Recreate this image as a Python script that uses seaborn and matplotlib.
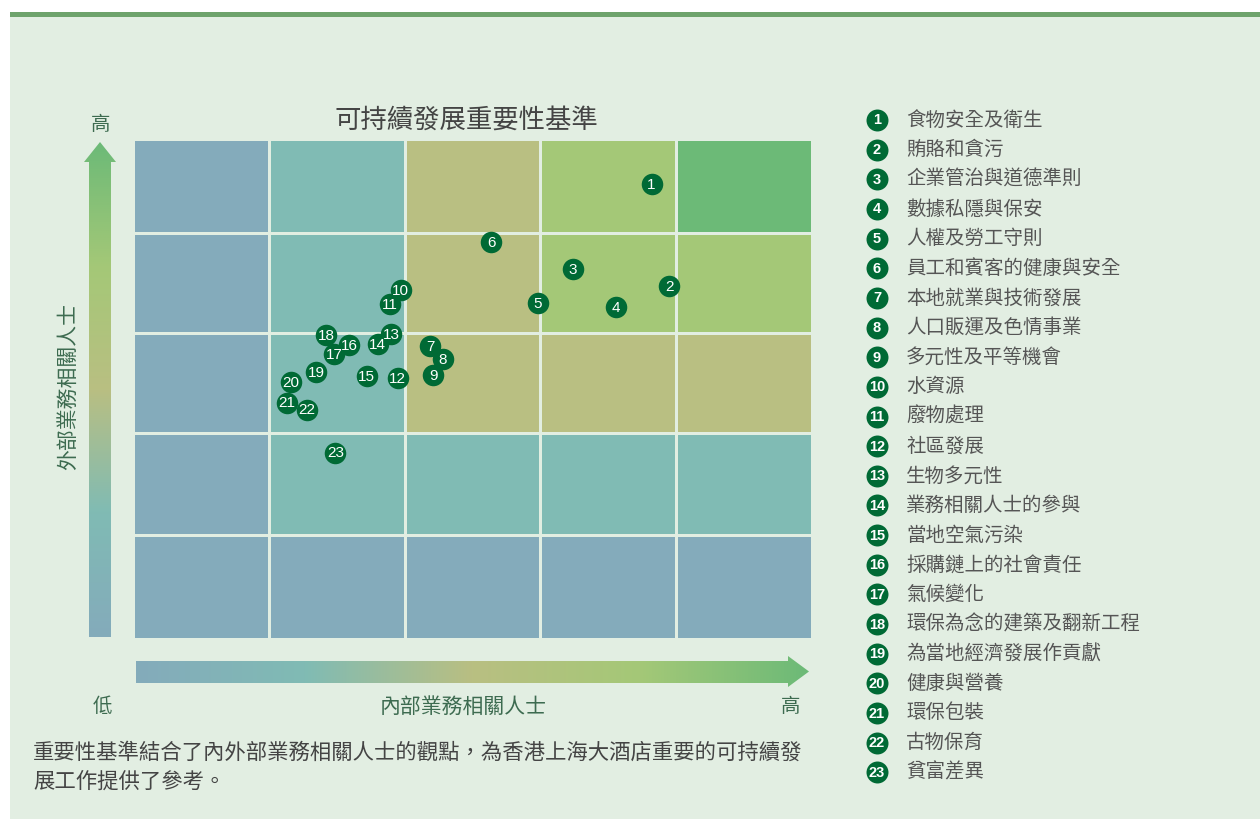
import numpy as np
import matplotlib
matplotlib.use("Agg")
import matplotlib.pyplot as plt
from matplotlib.colors import ListedColormap, LinearSegmentedColormap, BoundaryNorm
from matplotlib.patches import Polygon, Rectangle
import seaborn as sns

# Materiality issues (number, name, internal score, external score)
issue_ids = list(range(1, 24))
issue_names = [
    "食物安全及衛生", "賄賂和貪污", "企業管治與道德準則", "數據私隱與保安",
    "人權及勞工守則", "員工和賓客的健康與安全", "本地就業與技術發展",
    "人口販運及色情事業", "多元性及平等機會", "水資源", "廢物處理", "社區發展",
    "生物多元性", "業務相關人士的參與", "當地空氣污染", "採購鏈上的社會責任",
    "氣候變化", "環保為念的建築及翻新工程", "為當地經濟發展作貢獻", "健康與營養",
    "環保包裝", "古物保育", "貧富差異",
]
internal_score = [3.82, 3.95, 3.24, 3.56, 2.98, 2.64, 2.19, 2.28, 2.21, 1.97, 1.89, 1.95,
                  1.90, 1.80, 1.72, 1.59, 1.48, 1.42, 1.35, 1.16, 1.13, 1.28, 1.49]
external_score = [4.55, 3.53, 3.70, 3.32, 3.36, 3.97, 2.93, 2.80, 2.64, 3.49, 3.35, 2.61,
                  3.05, 2.95, 2.63, 2.94, 2.85, 3.04, 2.67, 2.57, 2.36, 2.29, 1.86]

# Zone grid: column / row edges and level of each cell (top row first)
col_edges = [0, 1, 2, 3, 4, 5]
row_edges = [0, 1.04, 2.06, 3.06, 4.06, 5.0]
zone_levels = [
    [0, 1, 2, 3, 4],
    [0, 1, 2, 3, 3],
    [0, 1, 2, 2, 2],
    [0, 1, 1, 1, 1],
    [0, 0, 0, 0, 0],
]
zone_colors = ["#84abbb", "#80bbb4", "#b9bf82", "#a4c877", "#6cba77"]

title = "可持續發展重要性基準"
x_label = "內部業務相關人士"
y_label = "外部業務相關人士"
low_text, high_text = "低", "高"
note_lines = ["重要性基準結合了內外部業務相關人士的觀點，為香港上海大酒店重要的可持續發",
              "展工作提供了參考。"]

bg = "#e2eee2"
dark_green = "#006a35"
label_green = "#3d6b50"

sns.set_theme(style="white")
plt.rcParams['font.family'] = ['Noto Sans CJK TC', 'DejaVu Sans']

W, H = 1260, 819
fig = plt.figure(figsize=(W / 100, H / 100), dpi=100, facecolor="white")

# Background / decoration layer in pixel coordinates
deco = fig.add_axes([0, 0, 1, 1], zorder=0)
deco.set_xlim(0, W)
deco.set_ylim(H, 0)
deco.axis("off")
deco.add_patch(Rectangle((10, 16), W - 10, H - 16, color=bg, lw=0, zorder=0))
deco.add_patch(Rectangle((10, 12), W - 10, 4.5, color="#6ea36c", lw=0, zorder=0))

grad_cmap = LinearSegmentedColormap.from_list("grad", zone_colors)
grad = np.linspace(0, 1, 256)

# vertical arrow
v_arrow = Polygon([(89, 637), (111, 637), (111, 162), (116, 162), (100, 142),
                   (84, 162), (89, 162)], closed=True, transform=deco.transData)
im = deco.imshow(grad[::-1].reshape(-1, 1), cmap=grad_cmap, extent=(84, 116, 637, 142),
                 aspect="auto", origin="upper", interpolation="bilinear", zorder=2)
im.set_clip_path(v_arrow)

# horizontal arrow
h_arrow = Polygon([(136, 661), (788, 661), (788, 656), (809, 671.5), (788, 687),
                   (788, 683), (136, 683)], closed=True, transform=deco.transData)
im2 = deco.imshow(grad.reshape(1, -1), cmap=grad_cmap, extent=(136, 809, 687, 656),
                  aspect="auto", interpolation="bilinear", zorder=2)
im2.set_clip_path(h_arrow)
deco.set_xlim(0, W)
deco.set_ylim(H, 0)

# Axis texts
deco.text(101, 124, high_text, ha="center", va="center", fontsize=14, color=label_green)
deco.text(102, 707, low_text, ha="center", va="center", fontsize=14, color=label_green)
deco.text(791, 707, high_text, ha="center", va="center", fontsize=14, color=label_green)
deco.text(463, 707, x_label, ha="center", va="center", fontsize=15, color=label_green)
deco.text(68, 387, y_label, ha="center", va="center", fontsize=15, color=label_green,
          rotation=90)
deco.text(466, 120, title, ha="center", va="center", fontsize=19, color="#444444")

for i, line in enumerate(note_lines):
    deco.text(33, 753 + i * 29, line, ha="left", va="center", fontsize=15.4, color="#444444")

# Legend list
for i, (num, name) in enumerate(zip(issue_ids, issue_names)):
    yy = 120 + i * 29.65
    deco.scatter(877, yy, s=250, color=dark_green, zorder=3, linewidths=0)
    deco.text(877, yy + 0.5, str(num), ha="center", va="center", fontsize=10.5,
              color="white", family="Liberation Sans", fontweight="bold", zorder=4)
    deco.text(906, yy, name, ha="left", va="center", fontsize=14, color="#555555")

# Main matrix
ax = fig.add_axes([133.25 / W, 1 - 638.75 / H, 678.5 / W, 499.5 / H], zorder=1)
ax.set_facecolor("none")
ax.pcolormesh(col_edges, row_edges, np.flipud(np.array(zone_levels)),
              cmap=ListedColormap(zone_colors),
              norm=BoundaryNorm(np.arange(-0.5, 5), len(zone_colors)),
              edgecolors=bg, linewidth=1.8)

sns.scatterplot(x=internal_score, y=external_score, s=240, color=dark_green,
                linewidth=0, ax=ax, zorder=3, legend=False)
for num, xv, yv in zip(issue_ids, internal_score, external_score):
    ax.text(xv, yv - 0.005, str(num), ha="center", va="center", fontsize=11,
            color="white", family="Liberation Sans", zorder=4)
ax.set_xlim(0, 5)
ax.set_ylim(0, 5)
ax.set_xticks([])
ax.set_yticks([])
ax.set_xlabel("")
ax.set_ylabel("")
for sp in ax.spines.values():
    sp.set_visible(False)

fig.savefig("out.png", dpi=100, facecolor="white")
